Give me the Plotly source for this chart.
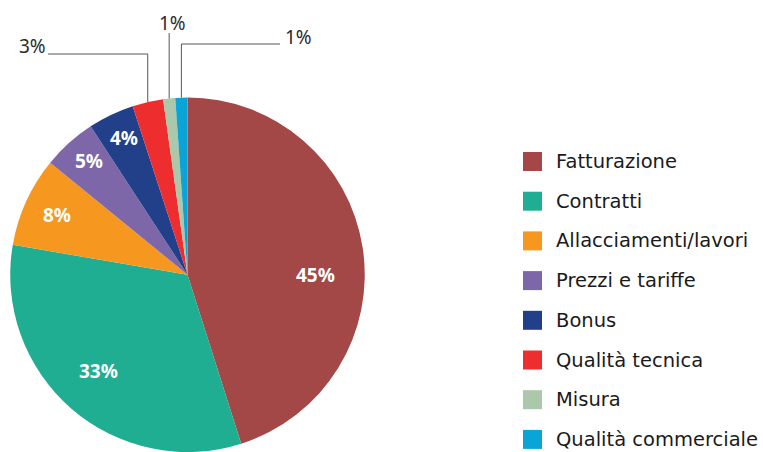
import math
import plotly.graph_objects as go

categories = ["Fatturazione", "Contratti", "Allacciamenti/lavori", "Prezzi e tariffe",
              "Bonus", "Qualità tecnica", "Misura", "Qualità commerciale"]
values = [45.1, 32.6, 8.2, 4.9, 4.2, 2.8, 1.1, 1.1]
colors = ["#A34747", "#1FAE91", "#F6981F", "#7E67A8", "#22408A", "#EE2E2E", "#ABC8AA", "#0AA4D6"]

W, H = 763, 452
CX, CY, R = 187.5, 274.75, 177.25
FONT = "Noto Sans"
LEGEND_FONT = "DejaVu Sans"

fig = go.Figure(go.Pie(
    labels=categories, values=values, sort=False, direction="clockwise", rotation=0,
    marker=dict(colors=colors, line=dict(width=0)), textinfo="none", hoverinfo="label+percent",
    domain=dict(x=[(CX - R) / W, (CX + R) / W], y=[1 - (CY + R) / H, 1 - (CY - R) / H]),
    showlegend=False,
))

def px(x):
    return x / W

def py(y):
    return 1 - y / H

total = sum(values)
cum = 0
mids = []
for v in values:
    mids.append((cum + v / 2) / total * 2 * math.pi)
    cum += v

def pt(angle, r):
    return CX + r * math.sin(angle), CY - r * math.cos(angle)

annotations = []
shapes = []
# inside labels: (radius fraction, angle shift in degrees)
inside = {0: (0.72, 9), 1: (0.74, 1.5), 2: (0.81, 0), 3: (0.85, 1), 4: (0.85, 0.5)}
for i, (rf, shift) in inside.items():
    x, y = pt(mids[i] + math.radians(shift), R * rf)
    annotations.append(dict(x=px(x), y=py(y), xref="paper", yref="paper",
                            xanchor="center", yanchor="middle",
                            text=f"<b>{round(values[i] / total * 100)}%</b>", showarrow=False,
                            font=dict(family=FONT, size=19, color="white")))

# outside labels with leader lines: (elbow y, horizontal end x, label x, label y)
outside = {5: (54, 48, 32, 46), 6: (33, None, 172, 23), 7: (44, 280, 298, 37)}
for i, (ey, hx, lx, ly) in outside.items():
    x0, y0 = pt(mids[i], R)
    path = f"M{px(x0)},{py(y0)} L{px(x0)},{py(ey)}"
    if hx is not None:
        path += f" L{px(hx)},{py(ey)}"
    shapes.append(dict(type="path", path=path, xref="paper", yref="paper",
                       line=dict(color="#555555", width=1)))
    annotations.append(dict(x=px(lx), y=py(ly), xref="paper", yref="paper",
                            xanchor="center", yanchor="middle",
                            text=f"{round(values[i] / total * 100)}%", showarrow=False,
                            font=dict(family=FONT, size=19, color="#2b2b2b")))

# legend
LX, LY0, LDY, LS = 523, 161.5, 39.7, 19
for i, (c, col) in enumerate(zip(categories, colors)):
    yc = LY0 + i * LDY
    shapes.append(dict(type="rect", xref="paper", yref="paper",
                       x0=px(LX), x1=px(LX + LS), y0=py(yc - LS / 2), y1=py(yc + LS / 2),
                       fillcolor=col, line=dict(width=0)))
    annotations.append(dict(x=px(554), y=py(yc), xref="paper", yref="paper",
                            xanchor="left", yanchor="middle",
                            text=c, showarrow=False,
                            font=dict(family=LEGEND_FONT, size=19.5, color="#1a1a1a")))

fig.update_layout(width=W, height=H, margin=dict(l=0, r=0, t=0, b=0),
                  paper_bgcolor="white", plot_bgcolor="white",
                  annotations=annotations, shapes=shapes)
fig.write_html("out.html", config={"displayModeBar": False},
               post_script="document.body.style.margin='0';")
